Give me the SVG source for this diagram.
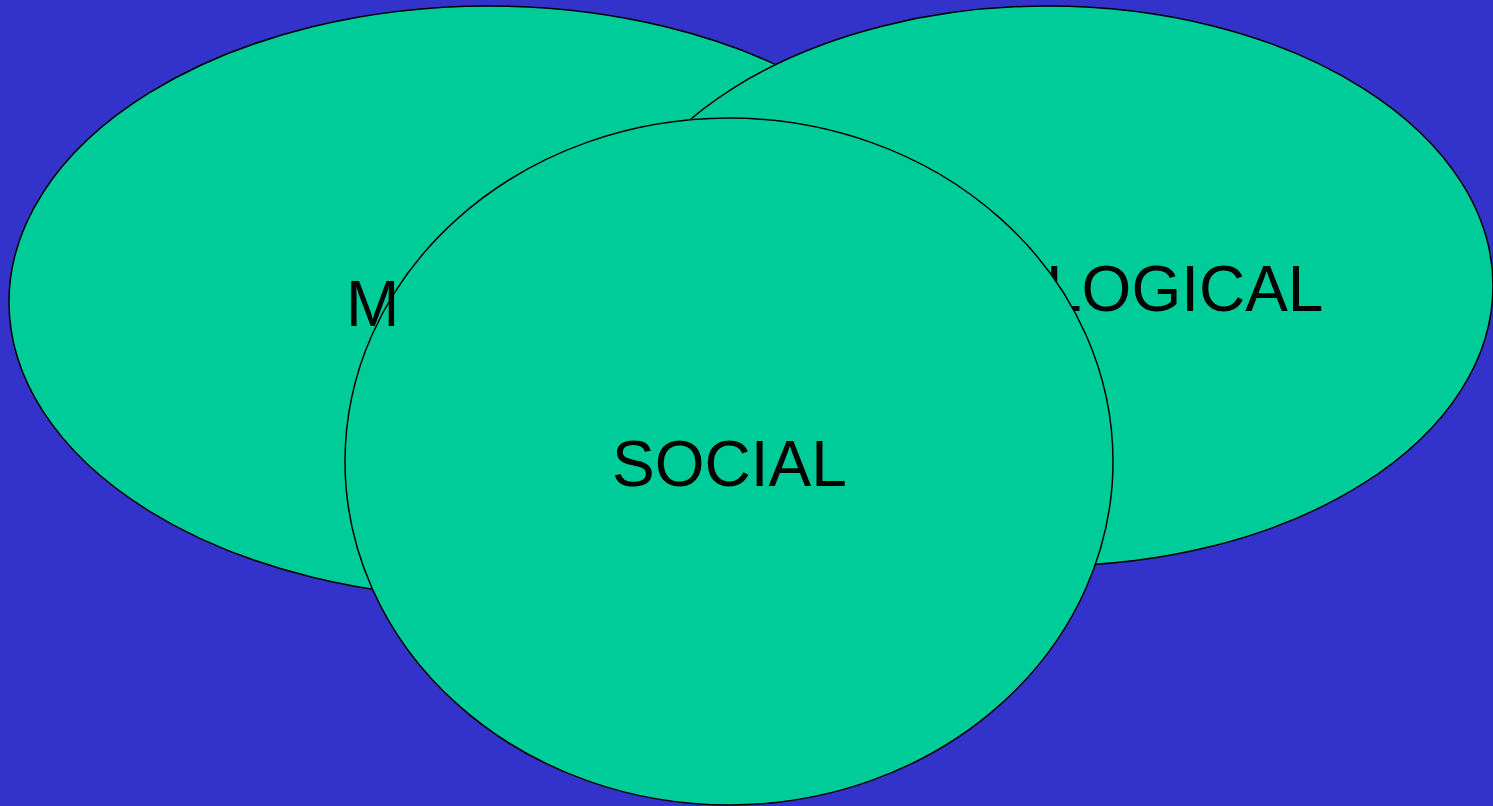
<svg xmlns="http://www.w3.org/2000/svg" width="1493" height="806" viewBox="0 0 1493 806">
<style>
.node{fill:#00CC99;stroke:#000;stroke-width:1.5}
.lbl{font-family:"Liberation Sans",Arial,sans-serif;font-size:64px;fill:#000}
</style>
<rect x="0" y="0" width="1493" height="806" fill="#3333CC"/>
<g id="left">
<ellipse class="node" cx="489" cy="302" rx="480" ry="296"/>
</g>
<g id="right">
<ellipse class="node" cx="1048" cy="286" rx="445" ry="280"/>
<text class="lbl" x="1046" y="311">LOGICAL</text>
</g>
<g id="social">
<ellipse class="node" cx="729" cy="461.5" rx="384" ry="343.5"/>
<text class="lbl" x="612" y="486">SOCIAL</text>
</g>
<g id="left-label">
<text class="lbl" x="346" y="326">M</text>
</g>
<g id="connectors"/>
</svg>
